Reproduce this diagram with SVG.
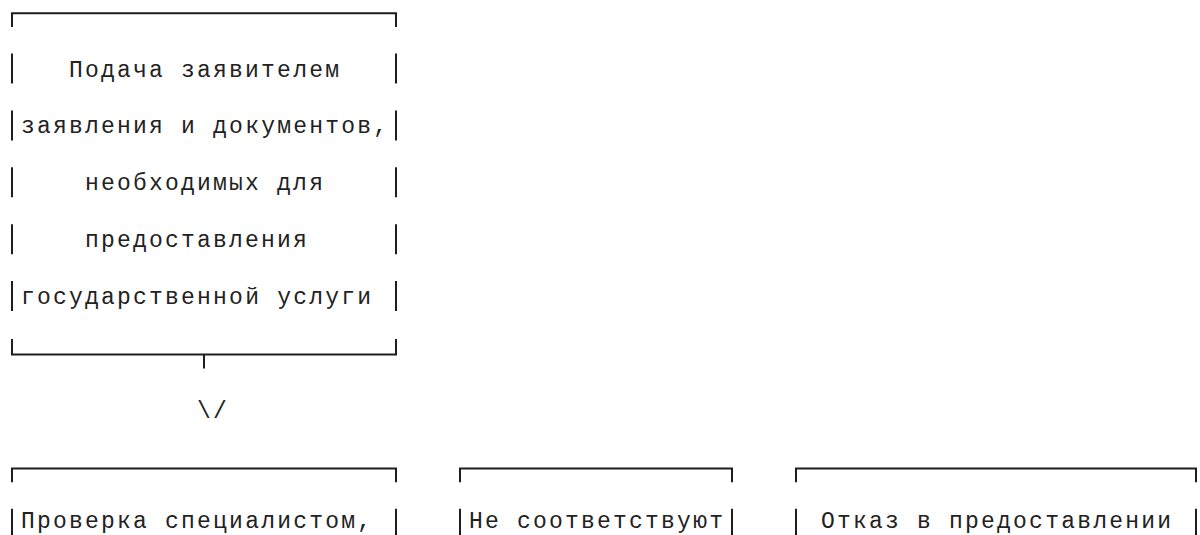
<svg xmlns="http://www.w3.org/2000/svg" width="1200" height="535" viewBox="0 0 1200 535">
  <style>
    .b { fill: none; stroke: #1e1e1e; stroke-width: 2; stroke-linecap: butt; }
    .t { font-family: "Liberation Mono", "Courier New", monospace; font-size: 23px; letter-spacing: 2.2px; fill: #222; }
  </style>
  <rect width="1200" height="535" fill="#ffffff"/>

  <g id="node-podacha">
    <path class="b" d="M12,27.1 V13.2 H396 V27.1"/>
    <path class="b" d="M12,53.5 V83.5 M396,53.5 V83.5 M12,110.4 V140.4 M396,110.4 V140.4 M12,167.3 V197.3 M396,167.3 V197.3 M12,224.2 V254.2 M396,224.2 V254.2 M12,281.1 V311.1 M396,281.1 V311.1"/>
    <path class="b" d="M12,339 V354.6 H396 V339"/>
    <text class="t" x="69.1" y="76.5">Подача заявителем</text>
    <text class="t" x="21.1" y="133.4">заявления и документов,</text>
    <text class="t" x="85.1" y="190.3">необходимых для</text>
    <text class="t" x="85.1" y="247.2">предоставления</text>
    <text class="t" x="21.1" y="304.1">государственной услуги</text>
  </g>

  <g id="connectors">
    <path class="b" d="M204,354.6 V368.5"/>
    <text class="t" x="197.1" y="417.9">\/</text>
  </g>

  <g id="node-proverka">
    <path class="b" d="M12,482.3 V468.4 H396 V482.3"/>
    <path class="b" d="M12,508.7 V540 M396,508.7 V540"/>
    <text class="t" x="21.1" y="528">Проверка специалистом,</text>
  </g>

  <g id="node-ne-sootvetstvuyut">
    <path class="b" d="M460,482.3 V468.4 H732 V482.3"/>
    <path class="b" d="M460,508.7 V540 M732,508.7 V540"/>
    <text class="t" x="469.1" y="528">Не соответствуют</text>
  </g>

  <g id="node-otkaz">
    <path class="b" d="M796,482.3 V468.4 H1196 V482.3"/>
    <path class="b" d="M796,508.7 V540 M1196,508.7 V540"/>
    <text class="t" x="821.1" y="528">Отказ в предоставлении</text>
  </g>
</svg>
